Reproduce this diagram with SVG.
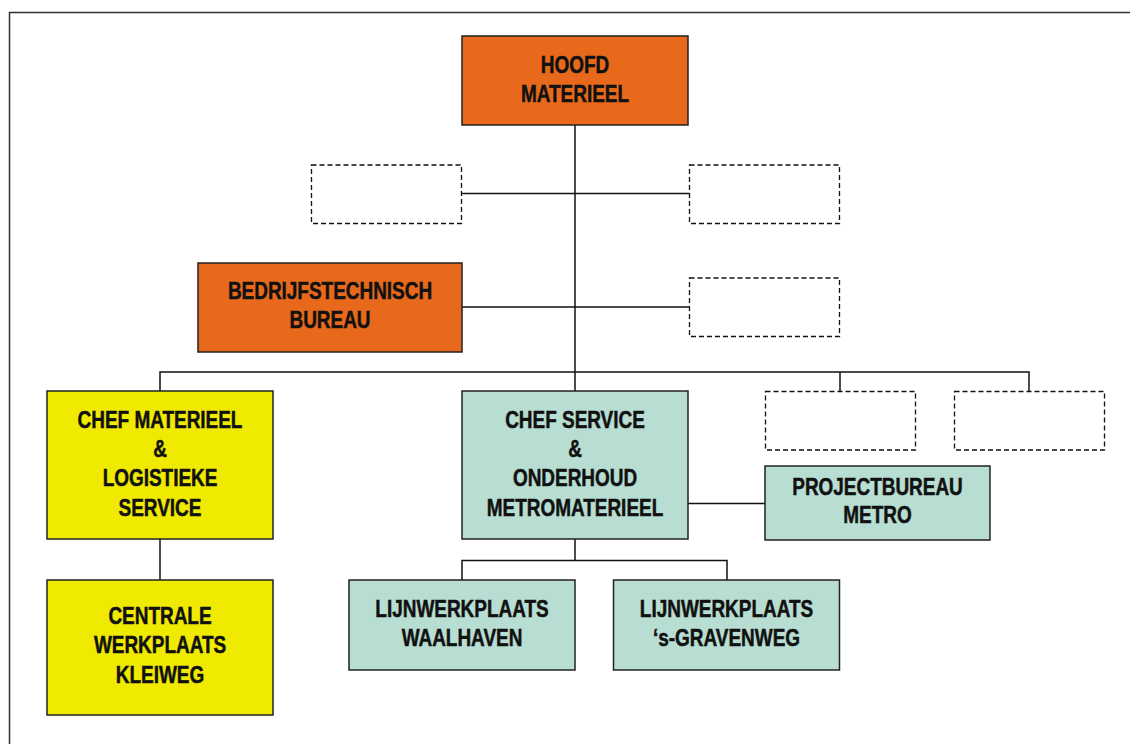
<svg xmlns="http://www.w3.org/2000/svg" width="1130" height="744" viewBox="0 0 1130 744">
<style>
.box{stroke:#222;stroke-width:1.5}
.or{fill:#E8691B}
.ye{fill:#F0EA00}
.te{fill:#B8DDD2}
.dash{fill:#fff;stroke:#111;stroke-width:1.3;stroke-dasharray:5 3}
.conn{stroke:#111;stroke-width:1.5;fill:none}
text{font-family:"Liberation Sans",Arial,sans-serif;font-weight:bold;font-size:24px;fill:#111;stroke:#111;stroke-width:0.5;text-anchor:middle}
</style>
<rect width="1130" height="744" fill="#fff"/>
<g id="frame"><path d="M9.5 744 V12.5 H1130" fill="none" stroke="#333" stroke-width="1.5"/></g>
<g id="connectors" class="conn">
<path d="M575 125 V391"/>
<path d="M461 193.5 H690"/>
<path d="M462 307 H690"/>
<path d="M160 391 V372 H1029 V391"/>
<path d="M840 372 V391"/>
<path d="M688 503.5 H765"/>
<path d="M575 539 V560.5"/>
<path d="M462 580 V560.5 H727 V580"/>
<path d="M160 539 V580"/>
</g>
<g id="hoofd"><rect class="box or" x="462" y="36" width="226" height="89"/>
<text transform="translate(575 72.7) scale(0.79 1)">HOOFD</text>
<text transform="translate(575 101.7) scale(0.79 1)">MATERIEEL</text></g>
<g id="vac1"><rect class="dash" x="311.5" y="165" width="150" height="58.5"/></g>
<g id="vac2"><rect class="dash" x="689.5" y="165" width="150" height="58.5"/></g>
<g id="bedrijf"><rect class="box or" x="198" y="263" width="264" height="89"/>
<text transform="translate(330 299.3) scale(0.79 1)">BEDRIJFSTECHNISCH</text>
<text transform="translate(330 328.3) scale(0.79 1)">BUREAU</text></g>
<g id="vac3"><rect class="dash" x="689.5" y="278" width="150" height="58.5"/></g>
<g id="chefmat"><rect class="box ye" x="47" y="391" width="226" height="148"/>
<text transform="translate(160 427.7) scale(0.79 1)">CHEF MATERIEEL</text>
<text transform="translate(160 457) scale(0.79 1)">&amp;</text>
<text transform="translate(160 486) scale(0.79 1)">LOGISTIEKE</text>
<text transform="translate(160 515.8) scale(0.79 1)">SERVICE</text></g>
<g id="chefservice"><rect class="box te" x="462" y="391" width="226" height="148"/>
<text transform="translate(575 427.7) scale(0.79 1)">CHEF SERVICE</text>
<text transform="translate(575 457) scale(0.79 1)">&amp;</text>
<text transform="translate(575 486) scale(0.79 1)">ONDERHOUD</text>
<text transform="translate(575 515.8) scale(0.79 1)">METROMATERIEEL</text></g>
<g id="vac4"><rect class="dash" x="765.5" y="391.5" width="150" height="58.5"/></g>
<g id="vac5"><rect class="dash" x="954.5" y="391.5" width="150" height="58.5"/></g>
<g id="projectbureau"><rect class="box te" x="765" y="466" width="225" height="74"/>
<text transform="translate(877.5 495) scale(0.79 1)">PROJECTBUREAU</text>
<text transform="translate(877.5 523.3) scale(0.79 1)">METRO</text></g>
<g id="waalhaven"><rect class="box te" x="349" y="580" width="226" height="90"/>
<text transform="translate(462 616.7) scale(0.79 1)">LIJNWERKPLAATS</text>
<text transform="translate(462 645.7) scale(0.79 1)">WAALHAVEN</text></g>
<g id="gravenweg"><rect class="box te" x="613.5" y="580" width="226" height="90"/>
<text transform="translate(726.5 616.7) scale(0.79 1)">LIJNWERKPLAATS</text>
<text transform="translate(726.5 645.7) scale(0.79 1)">‘s-GRAVENWEG</text></g>
<g id="centrale"><rect class="box ye" x="47" y="580" width="226" height="135"/>
<text transform="translate(160 624) scale(0.79 1)">CENTRALE</text>
<text transform="translate(160 653.3) scale(0.79 1)">WERKPLAATS</text>
<text transform="translate(160 682.7) scale(0.79 1)">KLEIWEG</text></g>
</svg>
